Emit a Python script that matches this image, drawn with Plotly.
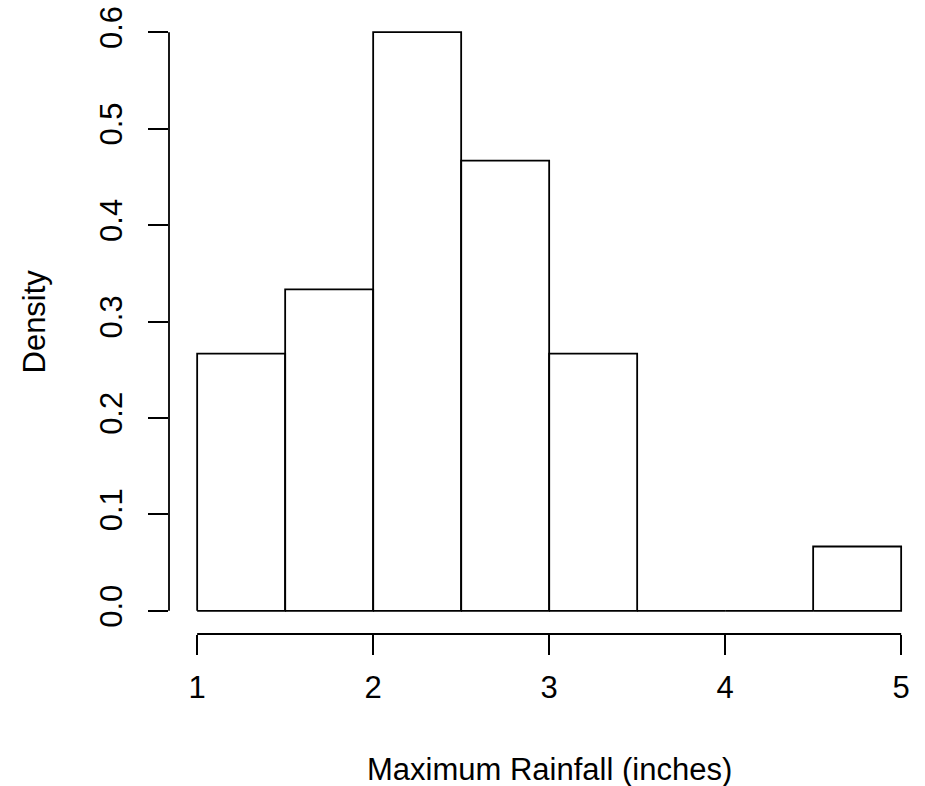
import plotly.graph_objects as go

# Histogram of maximum rainfall: bin edges and density per bin
bin_edges = [1.0, 1.5, 2.0, 2.5, 3.0, 3.5, 4.0, 4.5, 5.0]
densities = [0.2667, 0.3333, 0.6, 0.4667, 0.2667, 0.0, 0.0, 0.0667]
x_ticks = [1, 2, 3, 4, 5]
y_ticks = [0.0, 0.1, 0.2, 0.3, 0.4, 0.5, 0.6]

FONT = "Liberation Sans, Arial, Helvetica, sans-serif"
FS = 31

# Each bin is drawn as a closed rectangle outline (empty bins collapse to a line at 0)
xs, ys = [], []
for i, d in enumerate(densities):
    left, right = bin_edges[i], bin_edges[i + 1]
    xs += [left, left, right, right, left, None]
    ys += [0, d, d, 0, 0, None]

fig = go.Figure()
fig.add_trace(go.Scatter(
    x=xs, y=ys, mode="lines",
    line=dict(color="black", width=1.8),
    hoverinfo="skip", showlegend=False,
))

fig.update_layout(
    width=925, height=786,
    margin=dict(l=169, r=0, t=9, b=152),
    paper_bgcolor="white", plot_bgcolor="white",
    font=dict(family=FONT, size=FS, color="black"),
    xaxis=dict(
        range=[0.84, 5.1355], showgrid=False, zeroline=False, showline=False,
        tickmode="array", tickvals=x_ticks, ticktext=[str(v) for v in x_ticks],
        ticks="outside", ticklen=20, tickwidth=1.8, tickcolor="black",
        tickfont=dict(family=FONT, size=FS), ticklabelstandoff=6,
    ),
    yaxis=dict(
        range=[-0.024, 0.624], showgrid=False, zeroline=False, showline=False,
        tickmode="array", tickvals=y_ticks, ticktext=[f"{v:.1f}" for v in y_ticks],
        ticks="outside", ticklen=20, tickwidth=1.8, tickcolor="black",
        tickangle=-90, tickfont=dict(family=FONT, size=FS), ticklabelstandoff=14,
    ),
    shapes=[
        # R-style axis lines spanning only the tick range
        dict(type="line", xref="x", yref="paper", x0=x_ticks[0], x1=x_ticks[-1], y0=0, y1=0,
             line=dict(color="black", width=1.8)),
        dict(type="line", xref="paper", yref="y", x0=0, x1=0, y0=y_ticks[0], y1=y_ticks[-1],
             line=dict(color="black", width=1.8)),
    ],
    annotations=[
        dict(text="Maximum Rainfall (inches)", xref="paper", yref="paper",
             x=(549 - 169) / 756, y=-(769 - 634) / 625, showarrow=False,
             xanchor="center", yanchor="middle", font=dict(family=FONT, size=FS)),
        dict(text="Density", xref="paper", yref="paper",
             x=-(169 - 34) / 756, y=0.5, textangle=-90, showarrow=False,
             xanchor="center", yanchor="middle", font=dict(family=FONT, size=FS)),
    ],
)

fig.write_html("out.html")
